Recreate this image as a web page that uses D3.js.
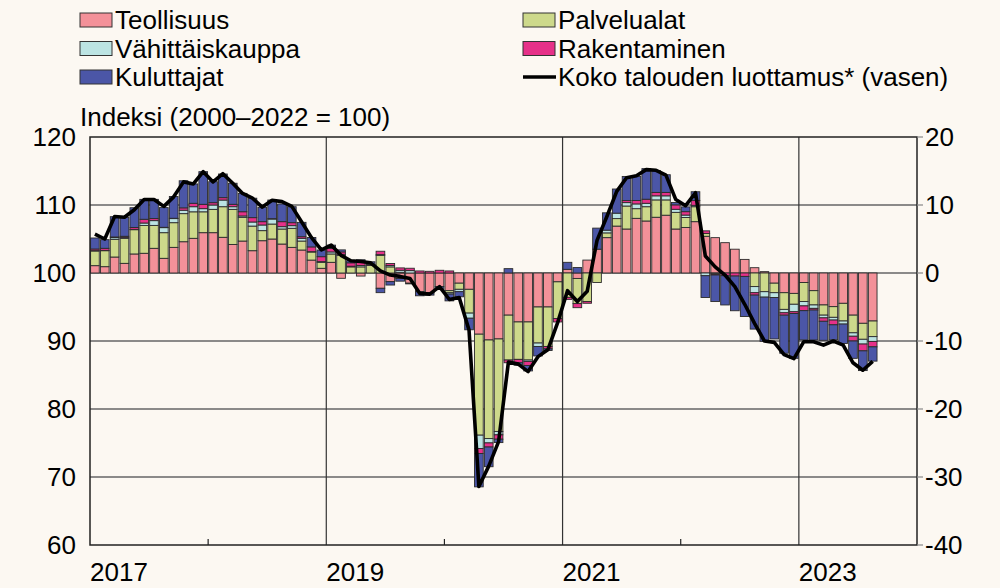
<!DOCTYPE html>
<html>
<head>
<meta charset="utf-8">
<script src="https://cdn.jsdelivr.net/npm/d3@7"></script>
<style>
  body { margin: 0; background: #fcf8f2; }
  svg text { font-family: "Liberation Sans", Arial, sans-serif; fill: #000; font-size: 26px; }
</style>
</head>
<body>
<script>
// kuukaudet: tammikuu 2017 - elokuu 2023, akseli vuoden 2023 loppuun
var months = d3.timeMonth.range(new Date(2017, 0, 1), new Date(2023, 8, 1));
var axisMonths = d3.timeMonth.range(new Date(2017, 0, 1), new Date(2024, 0, 1));

// saldoluvut (oikea akseli)
var teollisuus = [1.08,0.93,2.35,1.42,2.8,2.9,3.63,2.16,3.77,4.6,5.1,5.93,
  5.93,5.25,4.2,4.7,3.28,4.75,5.0,4.26,3.77,3.38,1.9,0.69,
  1.57,-0.78,0,-0.45,0,-2.25,-1.27,-0.8,-1.5,-2.75,-2.9,-2.0,
  -2.6,-1.5,-2.4,-9.0,-9.85,-9.7,-6.2,-7.2,-7.2,-5.0,-5.0,-1.3,
  0.54,-0.8,1.9,3.5,5.2,6.9,6.47,8.04,7.65,8.2,8.5,6.47,
  6.7,7.55,5.4,5.2,4.46,3.5,2.0,0.78,0.2,-1.5,-2.9,-3.0,
  -1.4,-2.6,-4.7,-4.95,-4.46,-6.2,-7.4,-7.06];
var palvelualat = [2.16,2.35,2.6,3.68,3.57,4.1,3.37,3.77,3.63,4.13,3.9,3.07,
  3.43,4.5,5.16,3.49,3.62,1.48,2.2,2.21,2.8,1.32,1.19,0.88,
  1.23,2.6,0.9,0.9,1.1,2.6,0.9,0.1,0,0,0,0,
  -0.3,-0.9,-3.5,-14.85,-14.5,-13.6,-6.6,-5.5,-5.6,-5.3,-5.8,-5.4,
  -3.58,-3.7,-4.2,-1.4,0.7,1.1,3.38,1.42,2.1,2.55,2.25,2.45,
  1.47,2.2,0.4,0,0,0,0,-2.0,-2.75,-1.4,-2.45,-1.6,
  -2.8,-2.1,-1.5,-1.57,-2.6,-2.6,-2.35,-2.3];
var vahittaiskauppa = [0.05,0.05,0.25,0.15,0.05,0.35,0.7,0.74,0.6,0.5,0.75,0.46,
  0.64,0.98,0.39,0.2,0.6,0.83,0.74,0.34,0.39,0.4,0.05,0.1,
  0.3,0.15,0.1,0.2,0.05,0.1,0.2,0.3,0.35,0,0,0,
  -0.2,-0.35,-0.75,-1.96,-0.64,-0.5,0,0,-0.2,-0.5,0,0,
  0,0,0,0,0.4,0.8,0.5,0.7,0.5,0.6,0.6,0.45,
  0.35,0.2,-0.4,-0.15,0,0,0,-0.9,-0.8,-0.7,-0.5,-1.1,
  -0.64,-0.5,-0.4,-0.4,-0.45,-0.5,-0.7,-0.7];
var rakentaminen = [0.24,0.3,0.1,0.15,0.28,0.55,0.3,0.05,0.05,0.35,0.5,0.64,
  0.34,0.35,0.35,0.62,0.64,0.49,0.05,0.74,0.44,0.24,0.7,0.73,
  0.5,0.35,0.5,0.5,0.1,0.5,0.3,0.35,0.35,0.3,0.25,0.4,
  0.3,0,0,-0.74,-0.6,-0.64,-0.4,-0.5,-0.6,0,-0.35,-0.5,
  -0.3,-0.6,-0.25,0,0,0,0.3,0.5,0.6,0.5,0.5,0.65,
  0.5,0.7,0.4,-0.15,-0.4,-0.45,-0.5,-0.35,0,0,-0.35,-0.25,
  -0.7,-0.25,-0.5,-0.7,0,-0.7,-1.0,-0.8];
var kuluttajat = [1.62,1.27,2.98,2.79,2.9,2.93,2.83,2.9,3.2,3.98,2.85,4.8,
  3.09,3.48,3.1,2.7,2.86,2.11,2.74,2.6,2.35,2.11,1.38,0.98,
  0.5,0.3,0.3,0.35,0.4,-0.64,-0.5,-0.4,-0.1,-0.6,-0.35,-0.4,
  -1.0,-0.75,-1.7,-4.9,-2.9,-0.5,0.64,-0.35,-0.8,-1.4,-0.25,0,
  1.03,0.8,0,3.1,2.55,3.55,3.55,3.55,4.5,3.2,2.6,0.35,
  0.7,1.3,-3.2,-3.9,-4.3,-5.1,-5.9,-5.0,-6.5,-6.1,-5.6,-6.6,
  -4.3,-4.4,-2.8,-2.2,-2.85,-2.55,-2.9,-2.1];
// koko talouden luottamus (vasen akseli)
var luottamus = [105.7,105.0,108.3,108.2,109.3,110.8,110.8,109.8,111.2,113.4,113.1,114.9,
  113.4,114.6,113.2,111.7,111.0,109.7,110.7,110.5,109.8,107.5,105.2,103.4,
  104.1,102.6,101.8,101.7,101.5,100.3,99.7,99.5,99.2,97.0,96.9,98.0,
  96.1,96.4,91.6,68.6,71.6,75.2,86.9,86.6,85.5,87.7,88.7,92.7,
  97.4,95.8,97.3,104.8,108.3,112.0,114.0,114.3,115.2,115.1,114.4,110.8,
  109.9,111.8,102.5,100.9,99.7,98.0,95.4,92.6,90.0,89.8,88.0,87.4,
  89.9,89.9,89.4,90.0,89.4,86.8,85.7,87.0];

var seriesNames = ["Teollisuus", "Palvelualat", "Vähittäiskauppa", "Rakentaminen", "Kuluttajat"];
var seriesColors = ["#f39199", "#cdd98b", "#bce4e3", "#e63189", "#4b56a7"];
var seriesValues = [teollisuus, palvelualat, vahittaiskauppa, rakentaminen, kuluttajat];
var lineLabel = "Koko talouden luottamus* (vasen)";
var yTitle = "Indeksi (2000–2022 = 100)";
var yearLabels = [2017, 2019, 2021, 2023];
var minorYears = [2018, 2020, 2022];
var leftTicks = [60, 70, 80, 90, 100, 110, 120];
var rightTicks = [-40, -30, -20, -10, 0, 10, 20];

var width = 1000, height = 588;
var plot = {left: 90, right: 917, top: 137, bottom: 545};

var svg = d3.select("body").append("svg")
    .attr("width", width)
    .attr("height", height)
    .style("background", "#fcf8f2");

var x = d3.scaleBand()
    .domain(axisMonths.map(function(d) { return +d; }))
    .range([plot.left, plot.right])
    .paddingInner(0.12)
    .paddingOuter(0.06);
var edge = function(date) { return x(+date) - x.step() * 0.06; };

var yLeft = d3.scaleLinear().domain([60, 120]).range([plot.bottom, plot.top]);
var yRight = d3.scaleLinear().domain([-40, 20]).range([plot.bottom, plot.top]);

// ruudukko
svg.append("g").selectAll("line")
    .data(leftTicks.slice(1, -1))
  .enter().append("line")
    .attr("x1", plot.left).attr("x2", plot.right)
    .attr("y1", function(d) { return yLeft(d); })
    .attr("y2", function(d) { return yLeft(d); })
    .attr("stroke", "#666").attr("stroke-width", 1.5);

svg.append("g").selectAll("line")
    .data(yearLabels.slice(1))
  .enter().append("line")
    .attr("x1", function(d) { return edge(new Date(d, 0, 1)); })
    .attr("x2", function(d) { return edge(new Date(d, 0, 1)); })
    .attr("y1", plot.top).attr("y2", plot.bottom)
    .attr("stroke", "#333").attr("stroke-width", 1.2);

// pinotut pylväät
var rows = months.map(function(m, i) {
  var r = {month: +m};
  seriesNames.forEach(function(s, j) { r[s] = seriesValues[j][i]; });
  return r;
});
var stacked = d3.stack().keys(seriesNames).offset(d3.stackOffsetDiverging)(rows);

svg.append("g").selectAll("g")
    .data(stacked)
  .enter().append("g")
    .attr("fill", function(d, i) { return seriesColors[i]; })
  .selectAll("rect")
    .data(function(d) { return d.filter(function(p) { return p[1] - p[0] !== 0; }); })
  .enter().append("rect")
    .attr("x", function(d) { return x(d.data.month); })
    .attr("width", x.bandwidth())
    .attr("y", function(d) { return yRight(d[1]); })
    .attr("height", function(d) { return yRight(d[0]) - yRight(d[1]); })
    .attr("stroke", "#2b2b2b")
    .attr("stroke-width", 0.9);

// kehys
svg.append("rect")
    .attr("x", plot.left).attr("y", plot.top)
    .attr("width", plot.right - plot.left).attr("height", plot.bottom - plot.top)
    .attr("fill", "none").attr("stroke", "#222").attr("stroke-width", 1.5);

svg.append("g").selectAll("line")
    .data(minorYears)
  .enter().append("line")
    .attr("x1", function(d) { return edge(new Date(d, 0, 1)); })
    .attr("x2", function(d) { return edge(new Date(d, 0, 1)); })
    .attr("y1", plot.bottom).attr("y2", plot.bottom - 6)
    .attr("stroke", "#222").attr("stroke-width", 1.2);

// luottamusindikaattori
var line = d3.line()
    .x(function(d, i) { return x(+months[i]) + x.bandwidth() / 2; })
    .y(function(d) { return yLeft(d); });
svg.append("path")
    .datum(luottamus)
    .attr("d", line)
    .attr("fill", "none")
    .attr("stroke", "#000")
    .attr("stroke-width", 3.6)
    .attr("stroke-linejoin", "round");

// akselit
svg.append("g").selectAll("text")
    .data(leftTicks)
  .enter().append("text")
    .attr("x", 76)
    .attr("y", function(d) { return yLeft(d); })
    .attr("dy", "0.36em")
    .attr("text-anchor", "end")
    .text(function(d) { return d; });

svg.append("g").selectAll("line")
    .data(rightTicks)
  .enter().append("line")
    .attr("x1", plot.right).attr("x2", plot.right + 6)
    .attr("y1", function(d) { return yRight(d); })
    .attr("y2", function(d) { return yRight(d); })
    .attr("stroke", "#888").attr("stroke-width", 1.2);

svg.append("g").selectAll("text")
    .data(rightTicks)
  .enter().append("text")
    .attr("x", 925)
    .attr("y", function(d) { return yRight(d); })
    .attr("dy", "0.36em")
    .text(function(d) { return d; });

svg.append("g").selectAll("text")
    .data(yearLabels)
  .enter().append("text")
    .attr("x", function(d) { return edge(new Date(d, 0, 1)); })
    .attr("y", 581)
    .text(function(d) { return d; });

svg.append("text")
    .attr("x", 80).attr("y", 126)
    .text(yTitle);

// selite
var legendItems = [
  {name: seriesNames[0], color: seriesColors[0], col: 0, row: 0},
  {name: seriesNames[1], color: seriesColors[1], col: 1, row: 0},
  {name: seriesNames[2], color: seriesColors[2], col: 0, row: 1},
  {name: seriesNames[3], color: seriesColors[3], col: 1, row: 1},
  {name: seriesNames[4], color: seriesColors[4], col: 0, row: 2},
  {name: lineLabel, color: null, col: 1, row: 2}
];
var legend = svg.append("g").selectAll("g")
    .data(legendItems)
  .enter().append("g")
    .attr("transform", function(d) {
      return "translate(" + (d.col ? 523 : 80) + "," + (20 + d.row * 28.5) + ")";
    });
legend.filter(function(d) { return d.color; }).append("rect")
    .attr("x", 0).attr("y", -7)
    .attr("width", 32).attr("height", 14)
    .attr("fill", function(d) { return d.color; })
    .attr("stroke", "#333").attr("stroke-width", 1);
legend.filter(function(d) { return !d.color; }).append("line")
    .attr("x1", 0).attr("x2", 33)
    .attr("stroke", "#000").attr("stroke-width", 3.6);
legend.append("text")
    .attr("x", 35)
    .attr("dy", "0.36em")
    .text(function(d) { return d.name; });
</script>
</body>
</html>
